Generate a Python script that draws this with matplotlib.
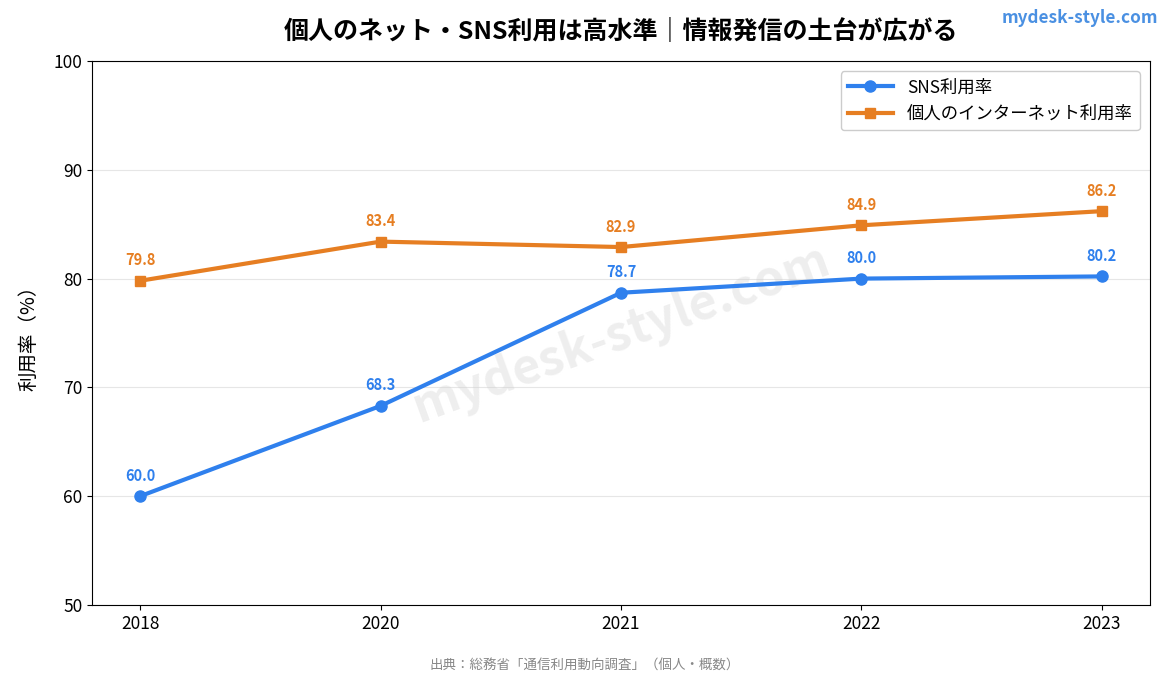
import matplotlib.pyplot as plt

plt.rcParams['font.family'] = ['Noto Sans CJK JP', 'DejaVu Sans']

years = ['2018', '2020', '2021', '2022', '2023']
sns_rate = [60.0, 68.3, 78.7, 80.0, 80.2]
internet_rate = [79.8, 83.4, 82.9, 84.9, 86.2]

blue = '#2F80ED'
orange = '#E67E22'

fig = plt.figure(figsize=(11.7, 6.76), dpi=100)
ax = fig.add_axes([92 / 1170, 1 - 605 / 676, (1150 - 92) / 1170, (605 - 61) / 676])

x = list(range(len(years)))
ax.plot(x, sns_rate, color=blue, linewidth=3, marker='o', markersize=8, label='SNS利用率', zorder=3)
ax.plot(x, internet_rate, color=orange, linewidth=3, marker='s', markersize=7, label='個人のインターネット利用率', zorder=3)

for xi, v in zip(x, sns_rate):
    ax.annotate(f'{v:.1f}', (xi, v), xytext=(0, 9), textcoords='offset points',
                ha='center', va='bottom', color=blue, fontsize=10.5, fontweight='bold')
for xi, v in zip(x, internet_rate):
    ax.annotate(f'{v:.1f}', (xi, v), xytext=(0, 9), textcoords='offset points',
                ha='center', va='bottom', color=orange, fontsize=10.5, fontweight='bold')

ax.set_xlim(-0.2, 4.2)
ax.set_ylim(50, 100)
ax.set_xticks(x)
ax.set_xticklabels(years)
ax.set_yticks([50, 60, 70, 80, 90, 100])
ax.tick_params(labelsize=12.5)
ax.grid(axis='y', color='#e6e6e6', linewidth=0.8)
ax.set_axisbelow(True)
ax.set_ylabel('利用率（%）', fontsize=14, labelpad=10)

ax.legend(loc='upper right', fontsize=12.5, framealpha=1, edgecolor='#cccccc',
          handlelength=2.6, borderaxespad=0.6)

# watermark
ax.text(0.5, 0.5, 'mydesk-style.com', transform=ax.transAxes, fontsize=35, fontweight='bold',
        color='#d0d0d0', alpha=0.35, rotation=20, ha='center', va='center', zorder=1)

fig.text(621 / 1170, 1 - 31 / 676, '個人のネット・SNS利用は高水準｜情報発信の土台が広がる',
         ha='center', va='center', fontsize=18, fontweight='bold')
fig.text(1158 / 1170, 1 - 18 / 676, 'mydesk-style.com', ha='right', va='center',
         fontsize=12.4, fontweight='bold', color='#4A90E2')
fig.text(0.5, 1 - 666 / 676, '出典：総務省「通信利用動向調査」（個人・概数）', ha='center', va='center',
         fontsize=9.7, color='#888888')

fig.savefig('out.png', dpi=100)
